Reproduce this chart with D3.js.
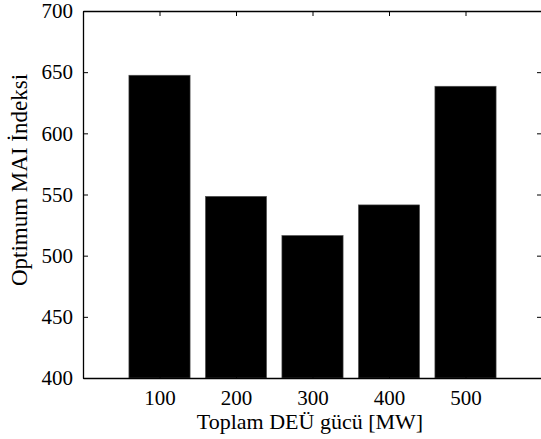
<!DOCTYPE html>
<html><head><meta charset="utf-8">
<script src="https://cdn.jsdelivr.net/npm/d3@7"></script>
<style>body{margin:0;background:#fff}svg{display:block}</style>
</head><body>
<script>
const categories = [100, 200, 300, 400, 500];
const values = [647.5, 548.5, 516.5, 541.5, 638.5];
const yTicks = [400, 450, 500, 550, 600, 650, 700];
const xLabel = "Toplam DEÜ gücü [MW]";
const yLabel = "Optimum MAI İndeksi";

(function () {
const W = 541, H = 439;
const mLeft = 83, mTop = 11, mRight = 542, mBottom = 378;
const font = "'Liberation Serif','Times New Roman',serif";

const svg = d3.select("body").append("svg").attr("width", W).attr("height", H);

const x = d3.scaleLinear().domain([0, 6]).range([mLeft, mRight]);
const y = d3.scaleLinear().domain([400, 700]).range([mBottom, mTop]);
const bw = 0.8;

svg.append("rect").attr("x", 0).attr("y", 0).attr("width", W).attr("height", H).attr("fill", "#fff");

svg.selectAll("rect.bar").data(categories).enter().append("rect")
  .attr("class", "bar")
  .attr("x", (d, i) => x(i + 1 - bw / 2))
  .attr("width", (d, i) => x(i + 1 + bw / 2) - x(i + 1 - bw / 2))
  .attr("y", (d, i) => y(values[i]))
  .attr("height", (d, i) => y(400) - y(values[i]))
  .attr("fill", "#000").attr("stroke", "#555").attr("stroke-width", 0.6);

const xAxis = d3.axisBottom(x).tickValues(categories.map((d, i) => i + 1))
  .tickFormat((d, i) => categories[i]).tickSizeInner(-5).tickSizeOuter(0).tickPadding(12);
const gx = svg.append("g").attr("transform", `translate(0,${mBottom})`).call(xAxis);
const yAxis = d3.axisLeft(y).tickValues(yTicks).tickSizeInner(-5).tickSizeOuter(0).tickPadding(10);
const gy = svg.append("g").attr("transform", `translate(${mLeft},0)`).call(yAxis);
const xTop = d3.axisTop(x).tickValues(categories.map((d, i) => i + 1)).tickFormat("").tickSizeInner(-5).tickSizeOuter(0);
const gxt = svg.append("g").attr("transform", `translate(0,${mTop})`).call(xTop);
const yRight = d3.axisRight(y).tickValues(yTicks).tickFormat("").tickSizeInner(-5).tickSizeOuter(0);
const gyr = svg.append("g").attr("transform", `translate(${mRight},0)`).call(yRight);

[gx, gy, gxt, gyr].forEach(g => {
  g.attr("font-family", null).attr("font-size", null);
  g.style("font-family", font).style("font-size", "21px");
  g.selectAll("path").attr("stroke", "#000").attr("stroke-width", 1.3);
  g.selectAll("line").attr("stroke", "#000").attr("stroke-width", 1);
  g.selectAll("text").style("font-family", font).style("font-size", "21px").attr("fill", "#000");
});

svg.append("text").attr("x", 310).attr("y", 429).attr("text-anchor", "middle")
  .style("font-family", font).style("font-size", "22px").attr("fill", "#000").text(xLabel);
svg.append("text").attr("transform", "translate(27,180) rotate(-90)").attr("text-anchor", "middle")
  .style("font-family", font).style("font-size", "23px").attr("fill", "#000").text(yLabel);
})();
</script>
</body></html>
